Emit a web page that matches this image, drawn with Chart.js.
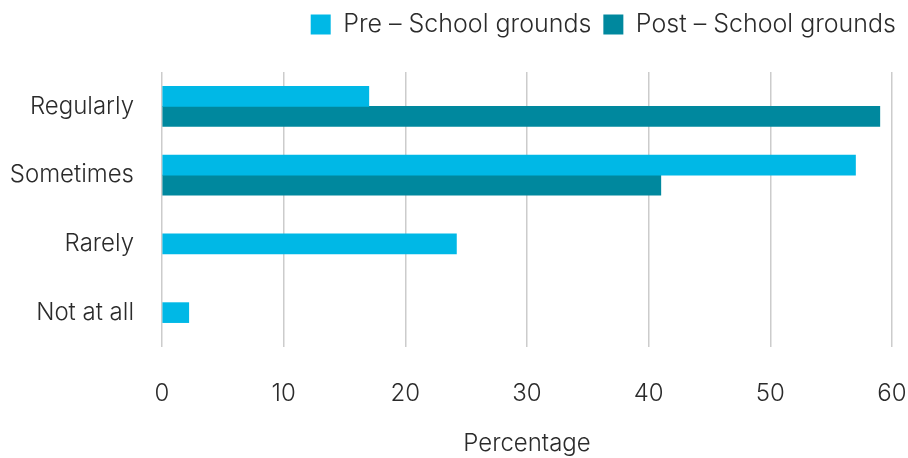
<!DOCTYPE html>
<html>
<head>
<meta charset="utf-8">
<script src="https://cdn.jsdelivr.net/npm/chart.js@4"></script>
<style>
  html, body { margin: 0; padding: 0; background: #fff; }
  #wrap { width: 908px; height: 458px; }
</style>
</head>
<body>
<div id="wrap"><canvas id="chart" width="908" height="458"></canvas></div>
<script>
const categories = ['Regularly', 'Sometimes', 'Rarely', 'Not at all']
const preValues = [17, 57, 24.2, 2.2]
const postValues = [59, 41, null, null]
const seriesNames = ['Pre – School grounds', 'Post – School grounds']
const xTicks = [0, 10, 20, 30, 40, 50, 60]

const FONT = 'Inter, "Open Sans", sans-serif'
const TEXT = '#2b2b2b'

// fixed legend band above the plot
const legendGap = {
  id: 'legendGap',
  beforeInit (chart) {
    const fit = chart.legend.fit
    chart.legend.fit = function () {
      fit.bind(chart.legend)()
      this.height = 72
    }
  }
}

new Chart(document.getElementById('chart'), {
  type: 'bar',
  data: {
    labels: categories,
    datasets: [
      {
        label: seriesNames[0],
        data: preValues,
        backgroundColor: '#00B8E6',
        barThickness: 20,
        skipNull: true
      },
      {
        label: seriesNames[1],
        data: postValues,
        backgroundColor: '#00889E',
        barThickness: 20,
        skipNull: true
      }
    ]
  },
  options: {
    indexAxis: 'y',
    responsive: false,
    animation: false,
    layout: { padding: 0 },
    plugins: {
      tooltip: { enabled: false },
      legend: {
        position: 'top',
        align: 'end',
        labels: {
          boxWidth: 20,
          boxHeight: 20,
          padding: 12,
          color: TEXT,
          font: { family: FONT, size: 25, weight: '300' }
        }
      }
    },
    scales: {
      x: {
        min: 0,
        max: 60,
        afterBuildTicks (axis) {
          axis.ticks = xTicks.map(v => ({ value: v }))
        },
        afterFit (scale) {
          scale.height = 111
          scale.paddingLeft = 0
          scale.paddingRight = 16
        },
        grid: { color: '#cccccc', lineWidth: 1.5, drawTicks: false },
        border: { display: false },
        ticks: {
          color: TEXT,
          padding: 32,
          font: { family: FONT, size: 24, weight: '300' }
        },
        title: {
          display: true,
          text: 'Percentage',
          color: TEXT,
          padding: 0,
          font: { family: FONT, size: 24, weight: '300' }
        }
      },
      y: {
        afterFit (scale) {
          scale.width = 162
          scale.paddingTop = 0
          scale.paddingBottom = 0
        },
        grid: { display: false, drawTicks: false },
        border: { display: false },
        ticks: {
          color: TEXT,
          padding: 28,
          font: { family: FONT, size: 24, weight: '300' }
        }
      }
    }
  },
  plugins: [legendGap]
})
</script>
</body>
</html>
